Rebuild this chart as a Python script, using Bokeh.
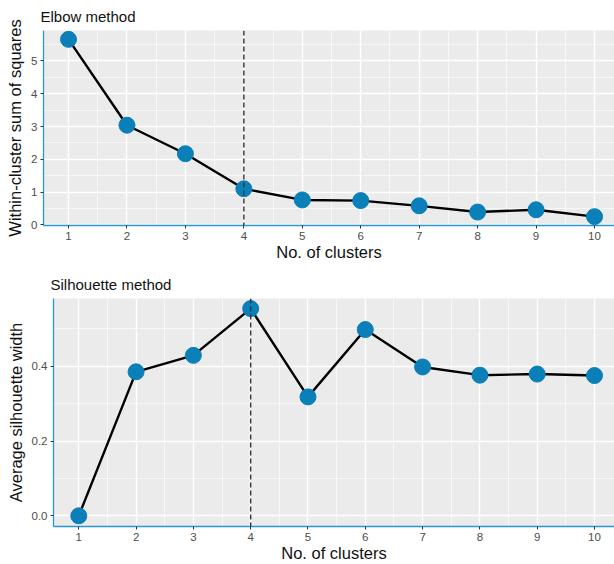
from bokeh.plotting import figure
from bokeh.models import Range1d, FixedTicker, Span
from bokeh.embed import file_html
from bokeh.resources import INLINE

clusters = [1, 2, 3, 4, 5, 6, 7, 8, 9, 10]
wss = [5.66, 3.04, 2.17, 1.10, 0.76, 0.74, 0.58, 0.39, 0.46, 0.25]
silhouette = [0.0, 0.385, 0.429, 0.554, 0.318, 0.498, 0.398, 0.376, 0.379, 0.375]
optimal_k = 4

FONT = "Liberation Sans"
PT_COLOR = "#0a7fb8"
AXIS_COLOR = "#2a97d4"


def make(title, ylabel, y, yr, xr, yticks, yminor, ylabels, height, top, bottom, left):
    p = figure(width=614, height=height, output_backend="svg", toolbar_location=None,
               x_range=Range1d(*xr), y_range=Range1d(*yr),
               min_border_left=left, min_border_right=0, min_border_top=top,
               min_border_bottom=bottom)
    p.title.text = title
    p.title.text_font = FONT
    p.title.text_font_size = "15px"
    p.title.text_font_style = "normal"
    p.title.text_color = "#111111"
    p.title.offset = -3
    p.title.standoff = 11
    p.background_fill_color = "#ebebeb"
    p.border_fill_color = "white"
    p.outline_line_color = None
    for g in (p.xgrid[0], p.ygrid[0]):
        g.grid_line_color = "white"
        g.grid_line_width = 1.4
        g.minor_grid_line_color = "white"
        g.minor_grid_line_width = 0.6
    p.xaxis.ticker = FixedTicker(ticks=clusters, minor_ticks=[c + 0.5 for c in clusters[:-1]])
    p.yaxis.ticker = FixedTicker(ticks=yticks, minor_ticks=yminor)
    p.yaxis.major_label_overrides = {t: l for t, l in zip(yticks, ylabels)}
    for ax in (p.xaxis[0], p.yaxis[0]):
        ax.axis_line_color = AXIS_COLOR
        ax.axis_line_width = 1.3
        ax.major_tick_line_color = "#333333"
        ax.major_tick_in = 0
        ax.major_tick_out = 3
        ax.minor_tick_line_color = None
        ax.major_label_text_font = FONT
        ax.major_label_text_font_size = "11.5px"
        ax.major_label_text_color = "#4d4d4d"
        ax.major_label_standoff = 2
        ax.axis_label_text_font = FONT
        ax.axis_label_text_font_size = "16.5px"
        ax.axis_label_text_font_style = "normal"
        ax.axis_label_text_color = "#111111"
        ax.axis_label_standoff = 0
    p.yaxis.axis_label_standoff = 4
    p.xaxis.axis_label = "No. of clusters"
    p.yaxis.axis_label = ylabel
    p.add_layout(Span(location=optimal_k, dimension="height", line_color="#333333",
                      line_dash="5 3", line_width=1.4))
    p.line(clusters, y, line_color="black", line_width=2.4)
    p.scatter(clusters, y, size=16, fill_color=PT_COLOR, line_color=PT_COLOR)
    return p


p1 = make("Elbow method", "Within-cluster sum of squares", wss,
          (-0.02, 5.93), (0.572, 10.342), [0, 1, 2, 3, 4, 5],
          [0.5, 1.5, 2.5, 3.5, 4.5, 5.5], ["0", "1", "2", "3", "4", "5"],
          263, 30, 36, 43)
p2 = make("Silhouette method", "Average silhouette width", silhouette,
          (-0.0285, 0.581), (0.559, 10.349), [0.0, 0.2, 0.4],
          [0.1, 0.3, 0.5], ["0.0", "0.2", "0.4"],
          301, 35, 37, 53)

open("out.html", "w").write(file_html([p1, p2], INLINE))
